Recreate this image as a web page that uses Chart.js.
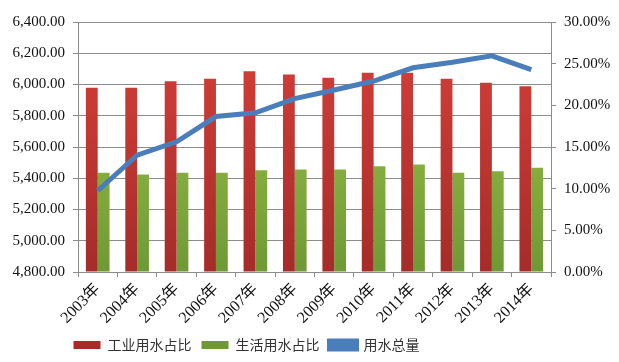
<!DOCTYPE html>
<html lang="zh">
<head>
  <meta charset="UTF-8">
  <title>用水总量与用水占比</title>
  <script src="https://cdn.jsdelivr.net/npm/chart.js"></script>
  <style>
    html, body { margin: 0; padding: 0; background: #fff; }
    .wrap { width: 619px; height: 362px; }
  </style>
</head>
<body>
<div class="wrap">
  <canvas id="waterChart" width="619" height="362"></canvas>
</div>

<script>
  const years = ["2003年", "2004年", "2005年", "2006年", "2007年", "2008年",
                 "2009年", "2010年", "2011年", "2012年", "2013年", "2014年"];
  // percentages, right axis
  const industryShare = [22.1, 22.1, 22.9, 23.2, 24.1, 23.7, 23.3, 23.9, 23.9, 23.2, 22.7, 22.3];
  const domesticShare = [11.9, 11.7, 11.9, 11.9, 12.2, 12.3, 12.3, 12.7, 12.9, 11.9, 12.1, 12.5];
  // total water use, left axis
  const totalUse = [5320, 5548, 5633, 5795, 5819, 5910, 5965, 6022, 6107, 6142, 6183, 6095];

  const tickFont = { family: "'Liberation Serif', 'Noto Sans CJK SC', serif", size: 15 };
  const xTickFont = { family: "'Liberation Serif', 'Noto Sans CJK SC', serif", size: 16 };
  const legendFont = { family: "'Noto Sans CJK SC', sans-serif", size: 14 };

  function barGradient(top, bottom, fallback) {
    return function (ctx) {
      const area = ctx.chart.chartArea;
      if (!area) return fallback;
      const g = ctx.chart.ctx.createLinearGradient(0, area.top, 0, area.bottom);
      g.addColorStop(0, top);
      g.addColorStop(1, bottom);
      return g;
    };
  }

  // shift the legend a bit to the left like the original
  const legendShift = {
    id: 'legendShift',
    afterLayout(chart) {
      const dx = -63;
      chart.legend.left += dx;
      chart.legend.right += dx;
    }
  };

  new Chart(document.getElementById("waterChart"), {
    type: 'bar',
    data: {
      labels: years,
      datasets: [
        {
          label: '工业用水占比',
          data: industryShare,
          yAxisID: 'y1',
          backgroundColor: barGradient('#d8403a', '#a52c29', '#c0392f'),
          categoryPercentage: 0.6,
          barPercentage: 1.0,
          order: 2
        },
        {
          label: '生活用水占比',
          data: domesticShare,
          yAxisID: 'y1',
          backgroundColor: barGradient('#a3c94f', '#6f9934', '#8bb540'),
          categoryPercentage: 0.6,
          barPercentage: 1.0,
          order: 2
        },
        {
          type: 'line',
          label: '用水总量',
          data: totalUse,
          yAxisID: 'y',
          borderColor: '#4a7ebb',
          backgroundColor: '#4a7ebb',
          borderWidth: 5,
          pointRadius: 0,
          tension: 0,
          order: 1
        }
      ]
    },
    options: {
      responsive: false,
      animation: false,
      layout: { padding: { top: 22, left: 0, right: 0, bottom: 0 } },
      plugins: {
        tooltip: { enabled: false },
        legend: {
          position: 'bottom',
          labels: {
            font: legendFont,
            color: '#333',
            boxWidth: 27,
            boxHeight: 8,
            padding: 10,
            sort: (a, b) => a.datasetIndex - b.datasetIndex
          }
        }
      },
      scales: {
        x: {
          grid: { drawOnChartArea: false, color: '#8c8c8c', tickLength: 5 },
          border: { color: '#8c8c8c' },
          ticks: { font: xTickFont, color: '#111', maxRotation: 45, minRotation: 45, padding: 3 },
          afterFit(scale) { scale.height = 56; }
        },
        y: {
          position: 'left',
          min: 4800,
          max: 6400,
          ticks: {
            stepSize: 200,
            font: tickFont,
            color: '#111',
            padding: 8,
            callback: v => v.toLocaleString('en-US', { minimumFractionDigits: 2, maximumFractionDigits: 2 })
          },
          grid: { color: '#8c8c8c', tickLength: 5 },
          border: { color: '#8c8c8c' },
          afterFit(scale) { scale.width = 78; }
        },
        y1: {
          position: 'right',
          min: 0,
          max: 30,
          ticks: {
            stepSize: 5,
            font: tickFont,
            color: '#111',
            padding: 8,
            callback: v => v.toFixed(2) + '%'
          },
          grid: { drawOnChartArea: false, color: '#8c8c8c', tickLength: 5 },
          border: { color: '#8c8c8c' },
          afterFit(scale) { scale.width = 68; }
        }
      }
    },
    plugins: [legendShift]
  });
</script>
</body>
</html>
